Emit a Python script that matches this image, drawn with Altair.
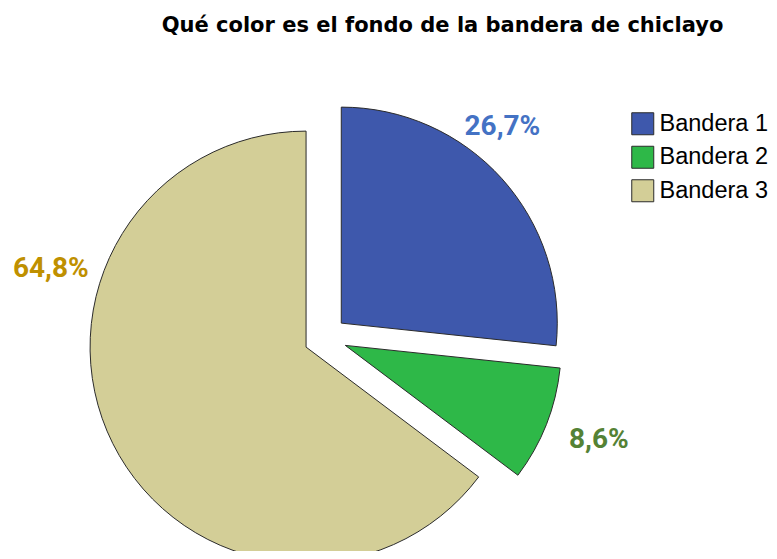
import altair as alt
import pandas as pd

# ---- data ----
cats = ["Bandera 1", "Bandera 2", "Bandera 3"]
pcts = [26.7, 8.6, 64.8]
labels = ["26,7%", "8,6%", "64,8%"]
order = [0, 1, 2]

# ---- style ----
slice_colors = ["#3E58AC", "#2EB848", "#D3CE97"]
label_colors = ["#4472C4", "#548235", "#BF9000"]
label_nudge = [(-31, -15), (13, 8), (-24, -186)]
CX, CY = 317.3, 329.5
EXPLODE = 21.5
R = 216
LABEL_R = 280

df = pd.DataFrame({"cat": cats, "pct": pcts, "label": labels, "order": order})

base = (
    alt.Chart(df)
    .transform_joinaggregate(total="sum(pct)")
    .transform_window(cum="sum(pct)", sort=[alt.SortField("order")], frame=[None, 0])
    .transform_calculate(start="(datum.cum - datum.pct) / datum.total")
    .transform_calculate(end="datum.cum / datum.total")
    .transform_calculate(mid="(datum.start + datum.end) / 2")
    .transform_calculate(
        ex=f"{CX} + {EXPLODE} * sin(2 * PI * datum.mid)",
        ey=f"{CY} - {EXPLODE} * cos(2 * PI * datum.mid)",
        cx=f"{CX}",
        cy=f"{CY}",
    )
)

theta_scale = alt.Scale(domain=[0, 1])

arcs = base.mark_arc(outerRadius=R, stroke="#2b2b2b", strokeWidth=1).encode(
    theta=alt.Theta("start:Q", scale=theta_scale),
    theta2="end:Q",
    x=alt.X("ex:Q", scale=None, axis=None),
    y=alt.Y("ey:Q", scale=None, axis=None),
    color=alt.Color(
        "cat:N",
        scale=alt.Scale(domain=cats, range=slice_colors),
        legend=alt.Legend(
            title=None,
            orient="none",
            legendX=623,
            legendY=104,
            symbolType="square",
            symbolSize=484,
            symbolStrokeColor="#2b2b2b",
            symbolStrokeWidth=1,
            symbolOpacity=1,
            labelFont="Liberation Sans",
            labelFontSize=23.5,
            labelColor="black",
            labelOffset=5,
            rowPadding=6.5,
            padding=0,
        ),
    ),
)

texts = []
for i, c in enumerate(cats):
    dx, dy = label_nudge[i]
    t = (
        base.transform_filter(alt.datum.cat == c)
        .mark_text(
            font="Roboto",
            fontWeight="bold",
            fontSize=28,
            color=label_colors[i],
            dx=dx,
            dy=dy,
            align="center",
            baseline="alphabetic",
            radius=LABEL_R,
        )
        .encode(
            theta=alt.Theta("mid:Q", scale=theta_scale),
            x=alt.X("cx:Q", scale=None, axis=None),
            y=alt.Y("cy:Q", scale=None, axis=None),
            text="label:N",
        )
    )
    texts.append(t)

chart = (
    alt.layer(arcs, *texts)
    .properties(
        width=761,
        height=543,
        autosize=alt.AutoSizeParams(type="none"),
        padding=0,
        title=alt.TitleParams(
            "Qué color es el fondo de la bandera de chiclayo",
            font="DejaVu Sans",
            fontSize=21,
            fontWeight="bold",
            color="black",
            anchor="middle",
            frame="group",
            offset=0,
            baseline="alphabetic",
            dx=54,
            dy=45,
        ),
    )
    .configure_view(stroke=None)
)

chart.save("out.html", embed_options={"renderer": "svg", "actions": False})
